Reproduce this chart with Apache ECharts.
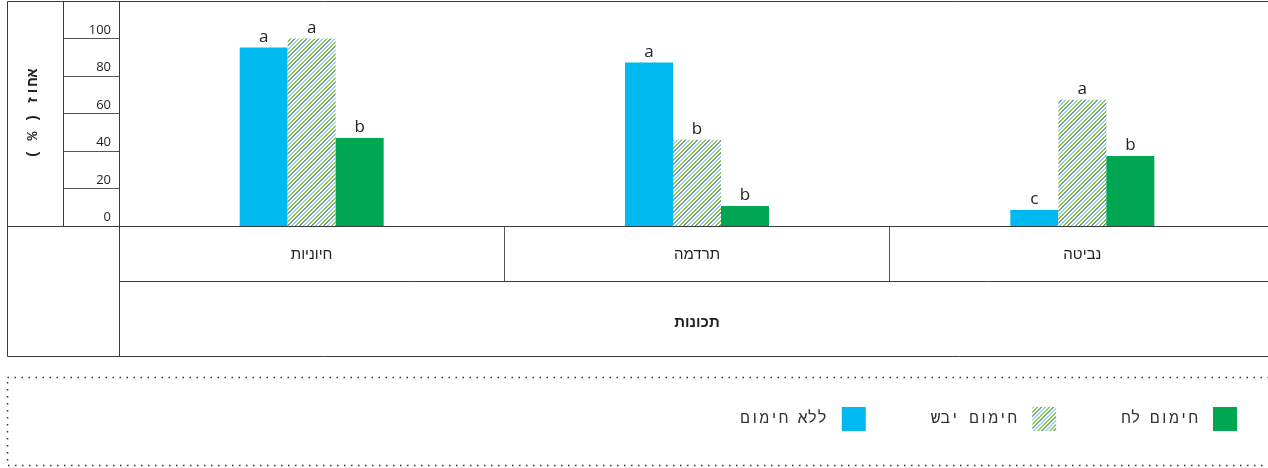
<!DOCTYPE html>
<html>
<head>
<meta charset="utf-8">
<script src="https://cdn.jsdelivr.net/npm/echarts@6/dist/echarts.min.js"></script>
<style>
  html, body { margin: 0; padding: 0; background: #fff; overflow: hidden; }
  #chart { width: 1276px; height: 468px; }
</style>
</head>
<body>
<div id="chart"></div>
<script>
// categories, left to right as drawn
const categories = ['חיוניות', 'תרדמה', 'נביטה']
const seriesNames = ['ללא חימום', 'חימום יבש', 'חימום לח']
// values in percent
const noHeat = [95.2, 87.2, 8.6]
const dryHeat = [100, 46, 67.4]
const wetHeat = [47, 10.7, 37.4]
// significance letters over each bar
const noHeatLetters = ['a', 'a', 'c']
const dryHeatLetters = ['a', 'b', 'a']
const wetHeatLetters = ['b', 'b', 'b']
const yTicks = [0, 20, 40, 60, 80, 100]

const FONT = "'Open Sans', 'DejaVu Sans', sans-serif"
const FONT_HE = "'Liberation Sans', sans-serif"
// spaced looking face, used for the legend and the y name
const FONT_WIDE = "'Liberation Mono', monospace"

// striped fill for the dry heat bars
function makeHatch () {
  let c = document.createElement('canvas')
  c.width = 12
  c.height = 12
  let ctx = c.getContext('2d')
  ctx.fillStyle = '#fff'
  ctx.fillRect(0, 0, 12, 12)
  let cols = ['#8fd3f4', '#8cc63f', '#7b9a86']
  for (let y = 0; y < 12; y++) {
    for (let x = 0; x < 12; x++) {
      let d = (x + y) % 12
      if (d % 4 < 2) {
        ctx.fillStyle = cols[Math.floor(d / 4)]
        ctx.fillRect(x, y, 1, 1)
      }
    }
  }
  return c
}

const values = [noHeat, dryHeat, wetHeat]
const letters = [noHeatLetters, dryHeatLetters, wetHeatLetters]
const colors = ['#00b9f1', { image: makeHatch(), repeat: 'repeat' }, '#00a651']

// frame lines of the table look
const frameLines = [
  [7, 1, 1276, 1], [7, 1, 7, 356], [63, 1, 63, 226], [119, 1, 119, 356],
  [7, 226, 1276, 226], [119, 281, 1276, 281], [7, 356, 1276, 356]
]
let graphics = frameLines.map(l => ({
  type: 'line',
  silent: true,
  z: 10,
  shape: { x1: l[0] + 0.5, y1: l[1] + 0.5, x2: l[2] + 0.5, y2: l[3] + 0.5 },
  style: { stroke: '#3a3a3a', lineWidth: 1 }
}))
graphics.push({
  type: 'rect',
  silent: true,
  shape: { x: 7.5, y: 377.5, width: 1280, height: 88 },
  style: { fill: 'none', stroke: '#333', lineWidth: 1.5, lineDash: [1.5, 5.5] }
})

let chart = echarts.init(document.getElementById('chart'))
chart.setOption({
  animation: false,
  grid: { left: 119, top: 1, width: 1156, height: 225 },
  graphic: graphics,
  legend: {
    data: seriesNames,
    right: 39,
    top: 407,
    padding: 0,
    icon: 'rect',
    itemWidth: 24,
    itemHeight: 24,
    itemGap: 65,
    align: 'right',
    textStyle: { fontSize: 16, color: '#333', fontFamily: FONT_WIDE, padding: [0, 10, 0, 0] }
  },
  xAxis: {
    type: 'category',
    data: categories,
    axisLine: { show: true, lineStyle: { color: '#555' } },
    axisTick: { show: true, length: 55, lineStyle: { color: '#555' } },
    axisLabel: { margin: 21, fontSize: 15, color: '#222', fontFamily: FONT_HE },
    name: 'תכונות',
    nameLocation: 'middle',
    nameGap: 89,
    nameTextStyle: { fontSize: 15, fontWeight: 'bold', color: '#222', fontFamily: FONT_HE }
  },
  yAxis: {
    type: 'value',
    min: 0,
    max: 120,
    interval: 20,
    axisLine: { show: false },
    splitLine: { show: false },
    axisTick: { show: true, length: 56, lineStyle: { color: '#555' } },
    axisLabel: {
      margin: 8,
      verticalAlign: 'bottom',
      padding: [0, 0, 2, 0],
      fontSize: 13,
      color: '#222',
      fontFamily: FONT,
      formatter: v => (yTicks.indexOf(v) >= 0 ? String(v) : '')
    },
    name: '\u202Bאחוז ( % )\u202C',
    nameLocation: 'middle',
    nameRotate: 90,
    nameGap: 78,
    nameTextStyle: { fontSize: 15, fontWeight: 'bold', color: '#222', fontFamily: FONT_WIDE }
  },
  series: seriesNames.map((name, i) => ({
    name: name,
    type: 'bar',
    data: values[i],
    barWidth: 48,
    barGap: '0%',
    itemStyle: { color: colors[i] },
    label: {
      show: true,
      position: 'top',
      distance: 2,
      fontSize: 17,
      color: '#222',
      fontFamily: FONT,
      formatter: p => letters[i][p.dataIndex]
    }
  }))
})
</script>
</body>
</html>
